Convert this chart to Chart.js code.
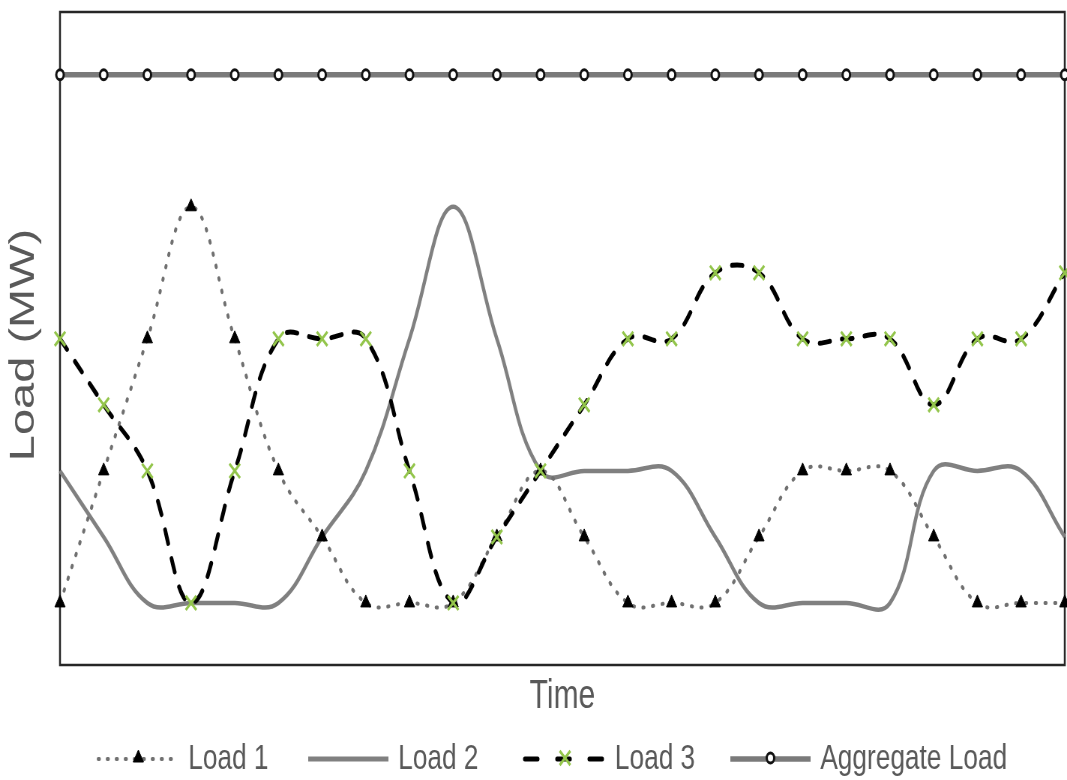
<!DOCTYPE html>
<html>
<head>
<meta charset="utf-8">
<script src="https://cdn.jsdelivr.net/npm/chart.js@4/dist/chart.umd.min.js"></script>
<style>
  html, body { margin: 0; padding: 0; background: #fff; overflow: hidden; }
  #wrap { width: 1067px; height: 780px; overflow: hidden; }
  #c { display: block; transform-origin: 0 0; }
</style>
</head>
<body>
<div id="wrap"><canvas id="c" width="1423" height="780"></canvas></div>
<script>
// Time steps along the horizontal axis (no tick labels are shown)
const timeSteps = ['1','2','3','4','5','6','7','8','9','10','11','12',
                   '13','14','15','16','17','18','19','20','21','22','23','24'];

// Load levels per time step
const load1 = [1, 3, 5, 7, 5, 3, 2, 1, 1, 1, 2, 3, 2, 1, 1, 1, 2, 3, 3, 3, 2, 1, 1, 1];
const load2 = [3, 2, 1, 1, 1, 1, 2, 3, 5, 7, 5, 3, 3, 3, 3, 2, 1, 1, 1, 1, 3, 3, 3, 2];
const load3 = [5, 4, 3, 1, 3, 5, 5, 5, 3, 1, 2, 3, 4, 5, 5, 6, 6, 5, 5, 5, 4, 5, 5, 6];
const aggregateLoad = [9, 9, 9, 9, 9, 9, 9, 9, 9, 9, 9, 9, 9, 9, 9, 9, 9, 9, 9, 9, 9, 9, 9, 9];

// Legend and axis title texts
const seriesNames = ['Load 1', 'Load 2', 'Load 3', 'Aggregate Load'];
const xTitle = 'Time';
const yTitle = 'Load (MW)';

// The drawing is laid out on a wider canvas and narrowed horizontally on screen
const CANVAS_W = 1423, SHOWN_W = 1067;
document.getElementById('c').style.transform = 'scaleX(' + (SHOWN_W / CANVAS_W) + ')';

const TEXT_COLOR = '#595959';
const FONT = '"Liberation Sans", Arial, sans-serif';

// Black frame around the plot area
const framePlugin = {
  id: 'frame',
  beforeDatasetsDraw(chart) {
    const { ctx, chartArea: a } = chart;
    ctx.save();
    ctx.strokeStyle = '#262626';
    ctx.lineWidth = 2.5;
    ctx.strokeRect(a.left, a.top, a.right - a.left, a.bottom - a.top);
    ctx.restore();
  }
};

// Axis titles
const titlesPlugin = {
  id: 'axisTitles',
  afterDraw(chart) {
    const { ctx, chartArea: a } = chart;
    ctx.save();
    ctx.fillStyle = TEXT_COLOR;
    ctx.textAlign = 'center';
    ctx.textBaseline = 'middle';
    ctx.font = '40px ' + FONT;
    ctx.fillText(xTitle, (a.left + a.right) / 2, 697);
    ctx.translate(32, 345);
    ctx.rotate(-Math.PI / 2);
    ctx.font = '47px ' + FONT;
    ctx.fillText(yTitle, 0, 0);
    ctx.restore();
  }
};

// Legend along the bottom: line sample with marker, then the name
const legendStarts = [131, 411, 700, 974];
const legendPlugin = {
  id: 'bottomLegend',
  afterDraw(chart) {
    const { ctx } = chart;
    const y = 759, len = 107;
    chart.data.datasets.forEach((ds, i) => {
      const x0 = legendStarts[i];
      ctx.save();
      ctx.strokeStyle = ds.borderColor;
      ctx.lineWidth = ds.legendLineWidth || ds.borderWidth;
      ctx.lineCap = ds.borderCapStyle || 'butt';
      ctx.setLineDash(ds.legendDash || ds.borderDash || []);
      ctx.beginPath();
      ctx.moveTo(x0, y);
      ctx.lineTo(x0 + len, y);
      ctx.stroke();
      ctx.restore();
      if (ds.pointRadius > 0) {
        ctx.save();
        ctx.fillStyle = ds.pointBackgroundColor || ds.pointBorderColor;
        ctx.strokeStyle = ds.pointBorderColor;
        ctx.lineWidth = ds.pointBorderWidth;
        Chart.helpers.drawPoint(ctx, {
          pointStyle: ds.pointStyle,
          radius: ds.pointRadius,
          rotation: 0,
          borderWidth: ds.pointBorderWidth
        }, x0 + len / 2, y - 1);
        ctx.restore();
      }
      ctx.save();
      ctx.fillStyle = TEXT_COLOR;
      ctx.font = '35px ' + FONT;
      ctx.textAlign = 'left';
      ctx.textBaseline = 'middle';
      ctx.fillText(seriesNames[i], x0 + len + 13, y);
      ctx.restore();
    });
  }
};

new Chart(document.getElementById('c'), {
  type: 'line',
  data: {
    labels: timeSteps,
    datasets: [
      {
        label: seriesNames[0], data: load1,
        borderColor: '#707070', borderWidth: 4, borderDash: [1.5, 11.5], borderCapStyle: 'round',
        legendDash: [1.5, 10.5],
        tension: 0.4, pointStyle: 'triangle', pointRadius: 8,
        pointBackgroundColor: '#000', pointBorderColor: '#000', pointBorderWidth: 1,
        order: 1, clip: false
      },
      {
        label: seriesNames[1], data: load2,
        borderColor: '#808080', borderWidth: 4.5, tension: 0.4,
        legendLineWidth: 5,
        pointRadius: 0, order: 2, clip: false
      },
      {
        label: seriesNames[2], data: load3,
        borderColor: '#000', borderWidth: 5, borderDash: [14, 16], borderCapStyle: 'round',
        legendDash: [17, 26],
        tension: 0.4, pointStyle: 'crossRot', pointRadius: 10,
        pointBackgroundColor: '#93c54b', pointBorderColor: '#93c54b', pointBorderWidth: 3,
        order: 0, clip: false
      },
      {
        label: seriesNames[3], data: aggregateLoad,
        borderColor: '#7a7a7a', borderWidth: 5.5, tension: 0,
        pointStyle: 'circle', pointRadius: 5,
        pointBackgroundColor: '#fff', pointBorderColor: '#111', pointBorderWidth: 3,
        order: 3, clip: false
      }
    ]
  },
  options: {
    responsive: false,
    devicePixelRatio: 1,
    animation: false,
    layout: { autoPadding: false, padding: { left: 80, right: 3, top: 12, bottom: 115 } },
    plugins: { legend: { display: false }, tooltip: { enabled: false } },
    scales: {
      x: { display: false },
      y: { display: false, min: 0.06, max: 9.95 }
    }
  },
  plugins: [framePlugin, titlesPlugin, legendPlugin]
});
</script>
</body>
</html>
